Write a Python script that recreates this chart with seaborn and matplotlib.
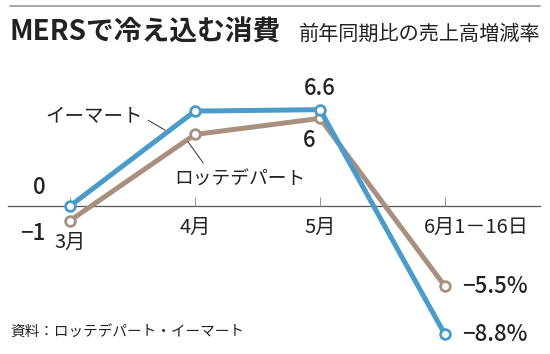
import pandas as pd
import seaborn as sns
import matplotlib.pyplot as plt
from matplotlib.lines import Line2D
from matplotlib.transforms import ScaledTranslation

months = ['3月', '4月', '5月', '6月1－16日']
emart = [0, 6.5, 6.6, -8.8]
lotte = [-1, 4.9, 6, -5.5]

sns.set_style("white")
plt.rcParams['font.family'] = ['Noto Sans CJK JP', 'DejaVu Sans']

blue = '#4a9bc8'
brown = '#a89080'

df = pd.DataFrame({
    'x': list(range(len(months))) * 2,
    'value': emart + lotte,
    'store': ['イーマート'] * len(months) + ['ロッテデパート'] * len(months),
})

fig = plt.figure(figsize=(5.5, 3.54), dpi=100)
# axes: x pixels 8..540, y pixels 60..345
ax = fig.add_axes([8 / 550, 9 / 354, 532 / 550, 285 / 354])

sns.lineplot(data=df, x='x', y='value', hue='store', hue_order=['ロッテデパート', 'イーマート'],
             palette=[brown, blue], linewidth=3.6, marker='o', markersize=7,
             markerfacecolor='white', markeredgewidth=2, ax=ax, legend=False)
for ln in ax.get_lines():
    ln.set_markeredgecolor(ln.get_color())
    ln.set_solid_joinstyle('miter')

ax.set_xlim(-0.496, 3.76)
ax.set_ylim(-9.52, 10.0)

for s in ['top', 'right', 'left']:
    ax.spines[s].set_visible(False)
ax.spines['bottom'].set_position(('data', 0))
ax.spines['bottom'].set_color('#555555')
ax.spines['bottom'].set_linewidth(0.9)
ax.spines['bottom'].set_zorder(0)
ax.set_yticks([])
ax.set_xticks(range(len(months)), months)
ax.tick_params(axis='x', direction='in', length=6.5, width=0.8, color='#999999',
               pad=8, labelsize=14.5, labelcolor='#222222', bottom=True)
labs = ax.get_xticklabels()
labs[0].set_transform(labs[0].get_transform() + ScaledTranslation(0, -15 / 100, fig.dpi_scale_trans))
labs[3].set_transform(labs[3].get_transform() + ScaledTranslation(31 / 100, 0, fig.dpi_scale_trans))
ax.set_xlabel('')
ax.set_ylabel('')

num = dict(fontsize=16, color='#222222', fontweight='medium')
ax.annotate('0', (0, emart[0]), xytext=(-22, 13), textcoords='offset points', ha='center', va='center', **num)
ax.annotate('−1', (0, lotte[0]), xytext=(-27, -9), textcoords='offset points', ha='center', va='center', **num)
ax.annotate('6.6', (2, emart[2]), xytext=(0, 15), textcoords='offset points', ha='center', va='center', **num)
ax.annotate('6', (2, lotte[2]), xytext=(-8, -16), textcoords='offset points', ha='center', va='center', **num)
ax.annotate('−5.5%', (3, lotte[3]), xytext=(12, 0), textcoords='offset points', ha='left', va='center', **num)
ax.annotate('−8.8%', (3, emart[3]), xytext=(12, 0), textcoords='offset points', ha='left', va='center', **num)

lbl = dict(color='#222222', textcoords='data', va='center',
           arrowprops=dict(arrowstyle='-', color='#333333', lw=0.7, shrinkA=2, shrinkB=0))
ax.annotate('イーマート', (0.76, 5.2), xytext=(0.19, 6.1), ha='center', fontsize=14,
            **{**lbl, 'arrowprops': {**lbl['arrowprops'], 'relpos': (1, 0.5)}})
ax.annotate('ロッテデパート', (0.944, 4.4), xytext=(1.36, 1.85), ha='center', fontsize=13.5,
            **{**lbl, 'arrowprops': {**lbl['arrowprops'], 'relpos': (0.25, 1)}})

fig.add_artist(Line2D([10 / 550, 540 / 550], [1 - 6 / 354, 1 - 6 / 354], color='#999999', lw=1.2))
fig.text(10 / 550, 1 - 33 / 354, 'MERSで冷え込む消費', fontsize=20, fontweight='bold',
         color='#222222', va='center', ha='left')
fig.text(540 / 550, 1 - 34 / 354, '前年同期比の売上高増減率', fontsize=14.5, color='#222222',
         va='center', ha='right')
fig.text(10 / 550, 1 - 333 / 354, '資料：ロッテデパート・イーマート', fontsize=10.5, color='#222222',
         va='center', ha='left')

fig.savefig('out.png', dpi=100)
